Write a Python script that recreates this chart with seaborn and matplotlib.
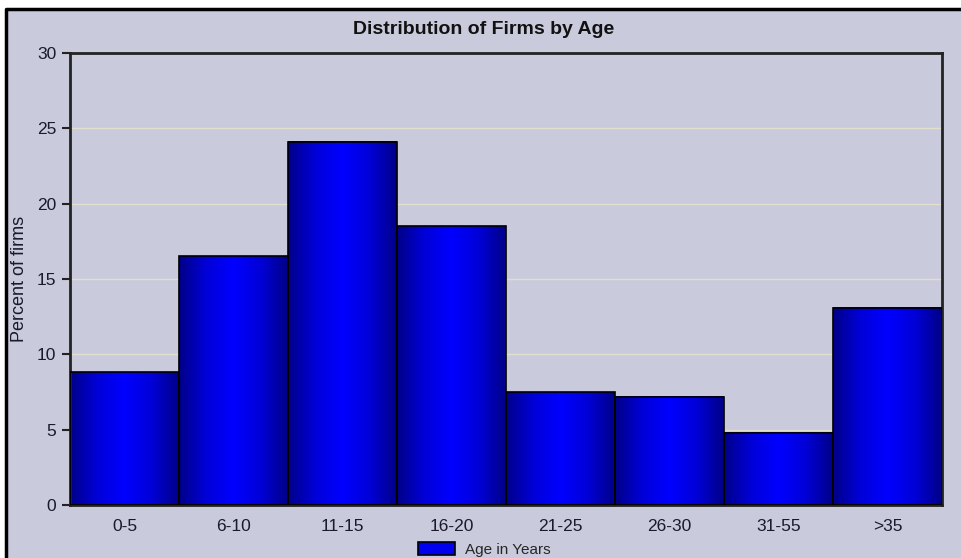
import numpy as np
import pandas as pd
import seaborn as sns
import matplotlib.pyplot as plt
from matplotlib.patches import Patch, Rectangle
from matplotlib.colors import LinearSegmentedColormap

# values
age_groups = ["0-5", "6-10", "11-15", "16-20", "21-25", "26-30", "31-55", ">35"]
percent_firms = [8.8, 16.5, 24.1, 18.5, 7.5, 7.2, 4.8, 13.1]
y_ticks = [0, 5, 10, 15, 20, 25, 30]

df = pd.DataFrame({"age": age_groups, "pct": percent_firms})

sns.set_style("white")
plt.rcParams['font.family'] = ['Liberation Sans Narrow', 'Liberation Sans', 'DejaVu Sans']

bg = "#c9cadc"
fig = plt.figure(figsize=(9.61, 5.58), dpi=100, facecolor="white")
# grey-lavender panel with black border on top and left
fig.patches.append(Rectangle((6 / 961, 0), 1, 1 - 9 / 558, transform=fig.transFigure,
                             facecolor=bg, edgecolor="none", zorder=-10))
fig.lines.append(plt.Line2D([6 / 961, 6 / 961, 1], [0, 1 - 9 / 558, 1 - 9 / 558],
                            transform=fig.transFigure, color="black", lw=2.5, zorder=-5))

ax = fig.add_axes([70 / 961, 1 - 505 / 558, 872 / 961, 452 / 558])
ax.set_facecolor(bg)

sns.barplot(data=df, x="age", y="pct", width=1.0, color="#0000ff",
            edgecolor="black", linewidth=1.2, ax=ax, zorder=3)

# horizontal gradient on each bar: navy at the edges, bright blue in the middle
cmap = LinearSegmentedColormap.from_list("bar", ["#000088", "#0000d8", "#0000ff", "#0000d8", "#000088"])
grad = np.linspace(0, 1, 256).reshape(1, -1)
for p in ax.patches:
    x0, y0 = p.get_x(), p.get_y()
    w, h = p.get_width(), p.get_height()
    ax.imshow(grad, cmap=cmap, aspect="auto", extent=(x0, x0 + w, y0, y0 + h),
              zorder=2, interpolation="bicubic")
    p.set_facecolor("none")

ax.set_xlim(-0.5, len(age_groups) - 0.5)
ax.set_ylim(0, 30)
ax.set_yticks(y_ticks)
for t in y_ticks[1:-1]:
    ax.axhline(t, color="#e2dfcc", lw=1, zorder=1)

for s in ax.spines.values():
    s.set_color("#222222")
    s.set_linewidth(2)

ax.tick_params(axis="y", direction="out", length=6, width=1.5, color="#222222",
               labelsize=12.5, labelcolor="#1a1a2a", pad=4, left=True)
ax.tick_params(axis="x", length=0, labelsize=12.5, labelcolor="#1a1a2a", pad=10)
ax.set_xlabel("")
ax.set_ylabel("Percent of firms", fontsize=13, family=["Liberation Sans", "DejaVu Sans"],
              color="#1a1a2a", labelpad=6)

fig.text(0.503, 1 - 29 / 558, "Distribution of Firms by Age", ha="center", va="center",
         fontsize=14, fontweight="bold", color="#111111")

handle = Patch(facecolor="#0000ee", edgecolor="black", linewidth=1.2)
fig.legend([handle], ["Age in Years"], loc="upper left", frameon=False,
           bbox_to_anchor=(418 / 961, 1 - 542 / 558), borderpad=0, borderaxespad=0,
           handlelength=2.4, handleheight=0.9, handletextpad=0.7,
           prop={"size": 11})

fig.savefig("out.png", dpi=100, facecolor="white")
